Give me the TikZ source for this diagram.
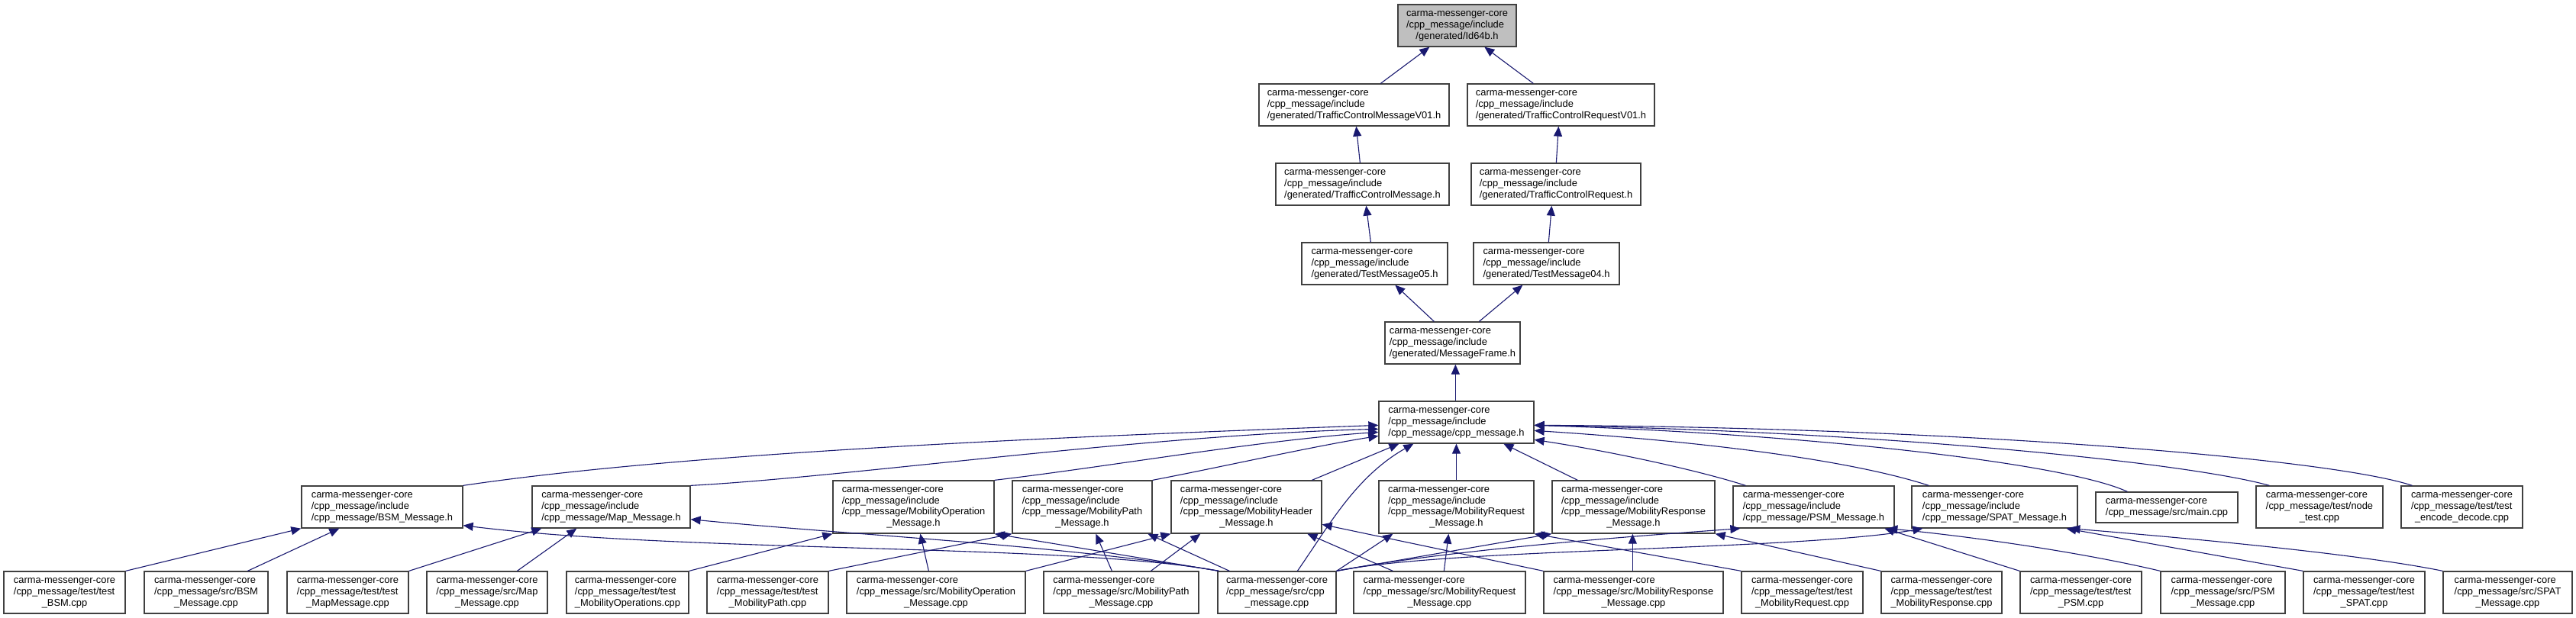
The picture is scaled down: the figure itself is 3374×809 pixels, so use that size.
\documentclass[tikz,border=0pt]{standalone}
\usepackage{fontspec}
\setmainfont{Liberation Sans}
\usetikzlibrary{arrows.meta,calc}
\definecolor{edgec}{HTML}{191970}
\definecolor{boxc}{HTML}{404040}
\definecolor{hlfill}{HTML}{BFBFBF}
\newcommand\lb[2]{\begin{tabular}{@{}l@{}}#1\\\multicolumn{1}{@{}c@{}}{#2}\end{tabular}}
\newcommand\nd[7][]{\node[nbox,#1,minimum width={#5-#3},minimum height={#6-#4}] (#2) at ({(#3+#5)/2},{(#4+#6)/2}) {#7};}
\tikzset{
  nbox/.style={draw=boxc,line width=1.3pt,inner sep=0pt,fill=white},
  edge/.style={draw=edgec,line width=1.1pt,-{Triangle[length=13pt,width=11pt]}}
}
\begin{document}
\begin{tikzpicture}[x=1pt,y=-1pt,font=\fontsize{12.87}{14.7}\selectfont]
\useasboundingbox (0,0) rectangle (3374,809);
\fill[white] (0,0) rectangle (3374,809);
% ---------- top chain ----------
\nd[fill=hlfill]{id}{1831}{6}{1986}{61}{\lb{carma-messenger-core\\/cpp\_message/include}{/generated/Id64b.h}}
\nd{tcmv}{1649}{110}{1898}{165}{\lb{carma-messenger-core\\/cpp\_message/include}{/generated/TrafficControlMessageV01.h}}
\nd{tcrv}{1922}{110}{2167}{165}{\lb{carma-messenger-core\\/cpp\_message/include}{/generated/TrafficControlRequestV01.h}}
\nd{tcm}{1671}{214}{1898}{269}{\lb{carma-messenger-core\\/cpp\_message/include}{/generated/TrafficControlMessage.h}}
\nd{tcr}{1927}{214}{2149}{269}{\lb{carma-messenger-core\\/cpp\_message/include}{/generated/TrafficControlRequest.h}}
\nd{tm5}{1705}{318}{1896}{373}{\lb{carma-messenger-core\\/cpp\_message/include}{/generated/TestMessage05.h}}
\nd{tm4}{1930}{318}{2121}{373}{\lb{carma-messenger-core\\/cpp\_message/include}{/generated/TestMessage04.h}}
\nd{mf}{1814}{422}{1991}{477}{\lb{carma-messenger-core\\/cpp\_message/include}{/generated/MessageFrame.h}}
\nd{cm}{1806}{526}{2009}{581}{\lb{carma-messenger-core\\/cpp\_message/include}{/cpp\_message/cpp\_message.h}}
% ---------- middle row ----------
\nd{bsmh}{395}{637}{606}{692}{\lb{carma-messenger-core\\/cpp\_message/include}{/cpp\_message/BSM\_Message.h}}
\nd{maph}{697}{637}{904}{692}{\lb{carma-messenger-core\\/cpp\_message/include}{/cpp\_message/Map\_Message.h}}
\nd{moboph}{1091}{630}{1302}{699}{\lb{carma-messenger-core\\/cpp\_message/include\\/cpp\_message/MobilityOperation}{\_Message.h}}
\nd{mobpathh}{1326}{630}{1509}{699}{\lb{carma-messenger-core\\/cpp\_message/include\\/cpp\_message/MobilityPath}{\_Message.h}}
\nd{mobhdrh}{1534}{630}{1731}{699}{\lb{carma-messenger-core\\/cpp\_message/include\\/cpp\_message/MobilityHeader}{\_Message.h}}
\nd{mobreqh}{1806}{630}{2009}{699}{\lb{carma-messenger-core\\/cpp\_message/include\\/cpp\_message/MobilityRequest}{\_Message.h}}
\nd{mobresph}{2033}{630}{2246}{699}{\lb{carma-messenger-core\\/cpp\_message/include\\/cpp\_message/MobilityResponse}{\_Message.h}}
\nd{psmh}{2270}{637}{2481}{692}{\lb{carma-messenger-core\\/cpp\_message/include}{/cpp\_message/PSM\_Message.h}}
\nd{spath}{2504}{637}{2721}{692}{\lb{carma-messenger-core\\/cpp\_message/include}{/cpp\_message/SPAT\_Message.h}}
\nd{maincpp}{2745}{645}{2931}{685}{\lb{carma-messenger-core}{/cpp\_message/src/main.cpp}}
\nd{nodetest}{2955}{637}{3121}{692}{\lb{carma-messenger-core\\/cpp\_message/test/node}{\_test.cpp}}
\nd{encdec}{3145}{637}{3304}{692}{\lb{carma-messenger-core\\/cpp\_message/test/test}{\_encode\_decode.cpp}}
% ---------- bottom row ----------
\nd{tbsm}{5}{749}{164}{804}{\lb{carma-messenger-core\\/cpp\_message/test/test}{\_BSM.cpp}}
\nd{bsmcpp}{189}{749}{351}{804}{\lb{carma-messenger-core\\/cpp\_message/src/BSM}{\_Message.cpp}}
\nd{tmap}{376}{749}{535}{804}{\lb{carma-messenger-core\\/cpp\_message/test/test}{\_MapMessage.cpp}}
\nd{mapcpp}{559}{749}{717}{804}{\lb{carma-messenger-core\\/cpp\_message/src/Map}{\_Message.cpp}}
\nd{tmobops}{742}{749}{902}{804}{\lb{carma-messenger-core\\/cpp\_message/test/test}{\_MobilityOperations.cpp}}
\nd{tmobpath}{926}{749}{1085}{804}{\lb{carma-messenger-core\\/cpp\_message/test/test}{\_MobilityPath.cpp}}
\nd{mobopcpp}{1109}{749}{1343}{804}{\lb{carma-messenger-core\\/cpp\_message/src/MobilityOperation}{\_Message.cpp}}
\nd{mobpathcpp}{1367}{749}{1570}{804}{\lb{carma-messenger-core\\/cpp\_message/src/MobilityPath}{\_Message.cpp}}
\nd{cppcpp}{1595}{749}{1750}{804}{\lb{carma-messenger-core\\/cpp\_message/src/cpp}{\_message.cpp}}
\nd{mobreqcpp}{1773}{749}{1998}{804}{\lb{carma-messenger-core\\/cpp\_message/src/MobilityRequest}{\_Message.cpp}}
\nd{mobrespcpp}{2022}{749}{2257}{804}{\lb{carma-messenger-core\\/cpp\_message/src/MobilityResponse}{\_Message.cpp}}
\nd{tmobreq}{2281}{749}{2440}{804}{\lb{carma-messenger-core\\/cpp\_message/test/test}{\_MobilityRequest.cpp}}
\nd{tmobresp}{2464}{749}{2622}{804}{\lb{carma-messenger-core\\/cpp\_message/test/test}{\_MobilityResponse.cpp}}
\nd{tpsm}{2646}{749}{2805}{804}{\lb{carma-messenger-core\\/cpp\_message/test/test}{\_PSM.cpp}}
\nd{psmcpp}{2830}{749}{2993}{804}{\lb{carma-messenger-core\\/cpp\_message/src/PSM}{\_Message.cpp}}
\nd{tspat}{3017}{749}{3176}{804}{\lb{carma-messenger-core\\/cpp\_message/test/test}{\_SPAT.cpp}}
\nd{spatcpp}{3200}{749}{3369}{804}{\lb{carma-messenger-core\\/cpp\_message/src/SPAT}{\_Message.cpp}}
% ---------- edges: top chain ----------
\draw[edge] ($(tcmv.north west)+(160,0)$) -- ($(id.south west)+(42,0)$);
\draw[edge] ($(tcrv.north west)+(87,0)$) -- ($(id.south west)+(114,0)$);
\draw[edge] ($(tcm.north west)+(111,0)$) -- ($(tcmv.south west)+(128,0)$);
\draw[edge] ($(tcr.north west)+(112,0)$) -- ($(tcrv.south west)+(120,0)$);
\draw[edge] ($(tm5.north west)+(91,0)$) -- ($(tcm.south west)+(119,0)$);
\draw[edge] ($(tm4.north west)+(99,0)$) -- ($(tcr.south west)+(106,0)$);
\draw[edge] ($(mf.north west)+(65,0)$) -- ($(tm5.south west)+(123,0)$);
\draw[edge] ($(mf.north west)+(124,0)$) -- ($(tm4.south west)+(65,0)$);
\draw[edge] ($(cm.north west)+(101,0)$) -- ($(mf.south west)+(93,0)$);
% ---------- edges into cpp_message.h ----------
\draw[edge] (bsmh.north east) .. controls (906,592) and (1406,572) .. ($(cm.north west)+(0,32)$);
\draw[edge] (maph.north east) .. controls (1104,626) and (1500,570) .. ($(cm.north west)+(0,37)$);
\draw[edge] (moboph.north east) .. controls (1450,612) and (1650,577) .. ($(cm.north west)+(0,41)$);
\draw[edge] (mobpathh.north east) .. controls (1600,612) and (1720,585) .. ($(cm.north west)+(0,46)$);
\draw[edge] ($(mobhdrh.north west)+(185,0)$) -- ($(cm.south west)+(27,0)$);
\draw[edge] ($(cppcpp.north west)+(105,0)$) .. controls (1740,690) and (1775,625) .. ($(cm.south west)+(46,0)$);
\draw[edge] (mobreqh.north) -- (cm.south);
\draw[edge] ($(mobresph.north west)+(34,0)$) -- ($(cm.south west)+(164,0)$);
\draw[edge] ($(psmh.north west)+(17,0)$) .. controls (2220,615) and (2100,590) .. ($(cm.north east)+(0,51)$);
\draw[edge] ($(spath.north west)+(23,0)$) .. controls (2430,605) and (2250,580) .. ($(cm.north east)+(0,39)$);
\draw[edge] ($(maincpp.north west)+(42,0)$) .. controls (2700,605) and (2350,568) .. ($(cm.north east)+(0,32)$);
\draw[edge] ($(nodetest.north west)+(18,0)$) .. controls (2860,605) and (2450,565) .. ($(cm.north east)+(0,32)$);
\draw[edge] ($(encdec.north west)+(15,0)$) .. controls (3050,600) and (2550,560) .. ($(cm.north east)+(0,32)$);
% ---------- edges: bottom row ----------
\draw[edge] (tbsm.north east) -- (bsmh.south west);
\draw[edge] ($(bsmcpp.north west)+(136,0)$) -- ($(bsmh.south west)+(50,0)$);
\draw[edge] ($(cppcpp.north west)+(2,0)$) .. controls (1400,712) and (900,725) .. ($(bsmh.south east)+(0,-4)$);
\draw[edge] (tmap.north east) -- ($(maph.south west)+(13,0)$);
\draw[edge] ($(mapcpp.north west)+(119,0)$) -- ($(maph.south west)+(59,0)$);
\draw[edge] ($(cppcpp.north west)+(2,0)$) .. controls (1400,715) and (1100,700) .. ($(maph.south east)+(0,-12)$);
\draw[edge] (tmobops.north east) -- (moboph.south west);
\draw[edge] ($(mobopcpp.north west)+(108,0)$) -- ($(moboph.south west)+(115,0)$);
\draw[edge] ($(cppcpp.north west)+(2,0)$) -- (moboph.south east);
\draw[edge] (tmobpath.north east) -- (mobpathh.south west);
\draw[edge] ($(mobpathcpp.north west)+(90,0)$) -- ($(mobpathh.south west)+(110,0)$);
\draw[edge] ($(cppcpp.north west)+(16,0)$) -- ($(mobpathh.south west)+(178,0)$);
\draw[edge] (mobopcpp.north east) -- (mobhdrh.south west);
\draw[edge] ($(mobpathcpp.north west)+(141,0)$) -- ($(mobhdrh.south west)+(39,0)$);
\draw[edge] ($(mobreqcpp.north west)+(52,0)$) -- ($(mobhdrh.south west)+(179,0)$);
\draw[edge] (mobrespcpp.north west) -- ($(mobhdrh.north east)+(0,58)$);
\draw[edge] (cppcpp.north east) -- ($(mobreqh.south west)+(19,0)$);
\draw[edge] ($(mobreqcpp.north west)+(119,0)$) -- ($(mobreqh.south west)+(92,0)$);
\draw[edge] (tmobreq.north west) -- (mobreqh.south east);
\draw[edge] (cppcpp.north east) -- (mobresph.south west);
\draw[edge] ($(mobrespcpp.north west)+(117,0)$) -- ($(mobresph.south west)+(106,0)$);
\draw[edge] (tmobresp.north west) -- (mobresph.south east);
\draw[edge] (cppcpp.north east) .. controls (1900,720) and (2150,702) .. ($(psmh.south west)+(10,0)$);
\draw[edge] (cppcpp.north east) .. controls (1900,718) and (2350,722) .. ($(spath.south west)+(15,0)$);
\draw[edge] (tpsm.north west) -- ($(psmh.south west)+(199,0)$);
\draw[edge] (psmcpp.north west) .. controls (2740,727) and (2600,705) .. ($(psmh.south west)+(203,0)$);
\draw[edge] (tspat.north west) -- ($(spath.south west)+(203,0)$);
\draw[edge] (spatcpp.north west) .. controls (3100,728) and (2900,708) .. ($(spath.south west)+(208,0)$);
\end{tikzpicture}
\end{document}
